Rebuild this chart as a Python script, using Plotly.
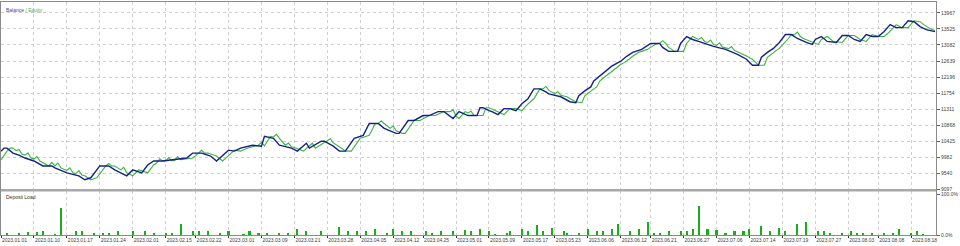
import plotly.graph_objects as go

# ---------------- data ----------------
balance_x = [0,1,2,4,6,8,11,14,17,18,22,26,28,30,33,36,38,42,44,47,49,51,54,57,62,64,67,70,72,76,78,80,84,87,88,91,93,97,99,102,103,107,108,111,113,115,118,121,123,126,128,132,133,136,138,141,143,146,148,151,153,156,159,160,161,163,164,166,168,170,172,174,176,178,180,182,183,187,190,192,193,195,197,198,200,202,204,207,209,211,214,217,220,221,223,226,227,229,231,233,238,242,246,249,251,253,254,256,258,260,262,264,266,269,271,272,274,276,279,281,283,285,287,289,291,293,295,297,299,301,303,305,307,309,312]
balance = [10158,10240,10240,10104,10049,9968,9886,9750,9750,9696,9560,9478,9369,9424,9750,9750,9641,9478,9641,9560,9777,9886,9886,9913,9968,10104,10104,10022,9886,10185,10158,10240,10321,10294,10566,10512,10321,10240,10158,10376,10240,10430,10430,10294,10158,10158,10512,10594,10920,10920,10784,10648,10648,11002,11002,11138,11138,11247,11247,11056,11247,11138,11138,11355,11355,11274,11247,11165,11328,11328,11274,11464,11600,11872,11872,11791,11736,11655,11519,11491,11682,11818,11927,12090,12226,12362,12498,12634,12770,12879,12961,13124,13124,13015,12906,12906,13124,13315,13233,13179,13042,12961,12825,12689,12525,12525,12743,12879,12988,13151,13369,13369,13260,13151,13097,13233,13315,13179,13151,13342,13342,13233,13179,13369,13315,13315,13451,13641,13559,13559,13750,13723,13587,13505,13451]

equity_x = list(range(0, 313))
equity = [9913,10050,10158,10240,10240,10172,10200,10076,10049,10110,
          9968,9941,10010,9886,9841,9795,9750,9850,9750,9830,
          9696,9662,9628,9700,9560,9540,9620,9499,9478,9424,
          9369,9397,9424,9533,9641,9750,9820,9750,9750,9696,
          9641,9710,9560,9519,9478,9560,9641,9614,9587,9560,
          9669,9777,9832,9950,9886,9886,9980,9895,9904,10010,
          9924,9935,9946,9957,9968,10036,10104,10180,10104,10104,
          10077,10049,10022,9954,9886,9961,10036,10110,10185,10172,
          10158,10199,10240,10260,10281,10301,10321,10400,10303,10430,
          10566,10548,10620,10512,10417,10321,10380,10281,10260,10240,
          10199,10158,10231,10303,10376,10240,10288,10335,10383,10430,
          10500,10385,10339,10294,10226,10158,10158,10158,10276,10394,
          10512,10539,10567,10594,10757,10920,10920,10990,10920,10852,
          10784,10850,10716,10682,10648,10648,10766,10884,11002,11002,
          11002,11047,11093,11138,11138,11138,11174,11211,11247,11247,
          11247,11300,11120,11056,11152,11247,11211,11260,11138,11138,
          11138,11138,11355,11355,11315,11274,11247,11206,11165,11247,
          11328,11328,11328,11301,11274,11369,11464,11532,11600,11736,
          11872,11872,11940,11832,11791,11736,11800,11696,11675,11655,
          11610,11564,11519,11505,11491,11682,11750,11818,11873,11927,
          12090,12158,12226,12294,12362,12430,12498,12543,12589,12634,
          12702,12770,12825,12879,12906,12934,12961,13015,13070,13124,
          13124,13200,13124,13015,12961,12906,12906,12906,12906,13124,
          13220,13315,13274,13233,13290,13179,13152,13220,13097,13070,
          13140,13022,13002,12981,13040,12927,12893,12859,12825,12780,
          12734,12689,12607,12525,12525,12525,12743,12811,12879,12934,
          12988,13070,13151,13260,13369,13369,13440,13315,13260,13224,
          13188,13151,13124,13097,13233,13274,13315,13247,13179,13170,
          13160,13151,13247,13342,13342,13342,13288,13233,13206,13179,
          13274,13369,13342,13315,13315,13315,13383,13451,13546,13641,
          13600,13559,13559,13559,13655,13750,13737,13723,13655,13587,
          13546,13505,13480]

load_x = [2,6,9,12,14,18,20,25,27,31,34,36,39,44,48,51,55,57,60,64,66,69,73,76,81,83,86,89,93,96,99,102,107,113,116,119,122,125,129,131,
          134,137,142,144,147,151,155,157,160,163,165,169,170,174,176,179,181,184,188,189,193,196,199,201,204,206,210,213,216,218,
          220,223,227,229,231,233,236,239,242,245,248,250,254,257,260,262,266,269,273,275,277,281,284,286,288,291,295,298,300,304,306,308]
load = [7,7,8,8,12,3,67,12,12,7,7,7,10,12,10,5,7,7,29,10,12,10,7,10,3,10,7,5,5,7,15,10,10,21,10,12,10,15,7,15,
        10,10,10,7,10,12,14,10,17,10,3,7,10,17,10,25,10,19,12,7,7,15,12,10,15,29,12,15,33,7,
        7,12,10,10,15,73,17,14,7,12,12,15,24,10,19,12,29,33,12,12,5,7,12,5,7,7,7,7,15,7,10,2]

date_tickvals = [0,11,22,33,44,55,65,76,87,98,109,120,131,141,152,163,174,185,196,207,217,228,239,250,261,272,283,293,304]
date_labels = ["2023.01.01","2023.01.10","2023.01.17","2023.01.24","2023.02.01","2023.02.15","2023.02.22","2023.03.01",
               "2023.03.09","2023.03.21","2023.03.28","2023.04.05","2023.04.12","2023.04.25","2023.05.01","2023.05.09",
               "2023.05.17","2023.05.23","2023.06.06","2023.06.12","2023.06.21","2023.06.27","2023.07.06","2023.07.14",
               "2023.07.19","2023.07.27","2023.08.03","2023.08.08","2023.08.18"]
balance_ticks = [9097,9540,9982,10425,10868,11311,11754,12196,12639,13082,13525,13967]
load_ticks = [0, 100]
load_tick_labels = ["0.0%", "100.0%"]

# ---------------- figure ----------------
FONT = "Liberation Sans"
W, H = 960, 246
xdom = [0, 937 / W]

fig = go.Figure()
fig.add_trace(go.Scatter(x=equity_x, y=equity, mode="lines", name="Equity",
                         line=dict(color="#3cb43c", width=1.1), xaxis="x", yaxis="y"))
fig.add_trace(go.Scatter(x=balance_x, y=balance, mode="lines", name="Balance",
                         line=dict(color="#13228a", width=1.4), xaxis="x", yaxis="y"))
fig.add_trace(go.Bar(x=load_x, y=load, width=0.7, name="Deposit Load",
                     marker=dict(color="#19ad19", line=dict(width=0)), xaxis="x2", yaxis="y2"))

grid = dict(gridcolor="#cfcfcf", griddash="dot", gridwidth=1)
tickfont = dict(family=FONT, size=5, color="#404040")

fig.update_layout(
    width=W, height=H, margin=dict(l=0, r=0, t=0, b=0),
    paper_bgcolor="white", plot_bgcolor="white", showlegend=False, bargap=0,
    xaxis=dict(domain=xdom, range=[0, 312.33], anchor="y", showticklabels=False,
               tickvals=date_tickvals, showgrid=True, **grid, zeroline=False,
               showline=True, mirror=True, linecolor="#8a8a8a", linewidth=1, ticks=""),
    yaxis=dict(domain=[(H - 192) / H, (H - 2) / H], range=[9097, 14266], side="right",
               tickvals=balance_ticks, ticktext=[str(v) for v in balance_ticks],
               tickfont=tickfont, ticks="outside", ticklen=3, tickcolor="#606060",
               showgrid=True, **grid, zeroline=False,
               showline=True, mirror=True, linecolor="#8a8a8a", linewidth=1),
    xaxis2=dict(domain=xdom, range=[0, 312.33], anchor="y2",
                tickvals=date_tickvals, ticktext=date_labels, tickfont=tickfont, tickangle=0,
                ticklabelposition="outside right", ticks="outside", ticklen=2, tickcolor="#303030",
                showgrid=True, **grid, zeroline=False,
                showline=True, mirror=False, linecolor="#8a8a8a", linewidth=1),
    yaxis2=dict(domain=[(H - 238) / H, (H - 193) / H], range=[0, 109.8], side="right", anchor="x2",
                tickvals=load_ticks, ticktext=load_tick_labels, tickfont=tickfont,
                ticks="outside", ticklen=3, tickcolor="#606060",
                showgrid=False, zeroline=False,
                showline=True, mirror=True, linecolor="#8a8a8a", linewidth=1),
    annotations=[
        dict(xref="paper", yref="paper", x=0.003, y=(H - 5) / H, xanchor="left", yanchor="top",
             showarrow=False,
             text='<span style="color:#3a48b0">Balance</span><span style="color:#808080"> / </span>'
                  '<span style="color:#3cb43c">Equity</span>',
             font=dict(family=FONT, size=5)),
        dict(xref="paper", yref="paper", x=0.003, y=(H - 194) / H, xanchor="left", yanchor="top",
             showarrow=False, text="Deposit Load", font=dict(family=FONT, size=5, color="#303030")),
    ],
    shapes=[
        dict(type="line", xref="paper", yref="paper", x0=0, x1=937 / W,
             y0=(H - 192.5) / H, y1=(H - 192.5) / H, line=dict(color="#a8a8a8", width=2.5)),
    ],
)

fig.write_html("out.html")
